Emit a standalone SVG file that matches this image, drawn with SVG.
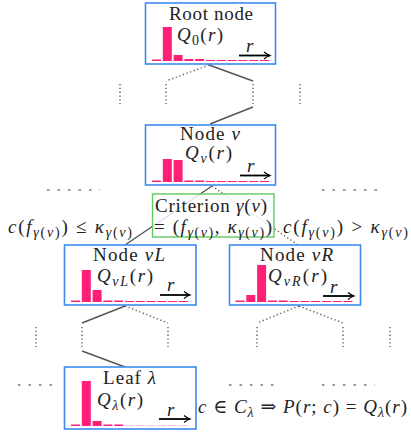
<svg xmlns="http://www.w3.org/2000/svg" width="411" height="434" viewBox="0 0 411 434">
<defs>
<style>
.box{fill:#fff;stroke:#3d8bef;stroke-width:1.6}
.crit{fill:#fff;fill-opacity:0.8;stroke:#5ec95e;stroke-width:1.4}
.t{font-size:19px;fill:#222}
.i{font-style:italic}
.s{font-size:14px}
.bar{fill:#ff1f77}
.faint{fill:#fbc3da}
.solid{stroke:#555;stroke-width:1.4;fill:none}
.dot{stroke:#666;stroke-width:1.5;stroke-dasharray:1.3 2.5;fill:none}
.hd{stroke:#777;stroke-width:1.3;stroke-dasharray:2.5 8;fill:none}
.arr{stroke:#000;stroke-width:1.8;fill:none}
</style>
<marker id="ah" markerUnits="userSpaceOnUse" markerWidth="10" markerHeight="10" refX="7" refY="5" orient="auto">
<path d="M1,1.5 Q4,4 7,5 Q4,6 1,8.5" fill="none" stroke="#000" stroke-width="1.2"/>
</marker>
</defs>

<g id="connectors">
<line class="solid" x1="209" y1="65" x2="253" y2="81"/>
<line class="dot" x1="209" y1="65" x2="166" y2="81"/>
<line class="dot" x1="120" y1="84" x2="120" y2="104"/>
<line class="dot" x1="166" y1="84" x2="166" y2="104"/>
<line class="dot" x1="253" y1="84" x2="253" y2="104"/>
<line class="dot" x1="300" y1="84" x2="300" y2="104"/>
<line class="solid" x1="253" y1="107" x2="210" y2="124"/>
<line class="solid" x1="212" y1="186" x2="125" y2="245"/>
<line class="dot" x1="212" y1="186" x2="298" y2="245"/>
<line class="hd" x1="47" y1="190" x2="100" y2="190"/>
<line class="hd" x1="322" y1="190" x2="380" y2="190"/>
<line class="solid" x1="125" y1="306" x2="82" y2="323"/>
<line class="dot" x1="125" y1="306" x2="168" y2="323"/>
<line class="dot" x1="36" y1="327" x2="36" y2="347"/>
<line class="dot" x1="82" y1="327" x2="82" y2="347"/>
<line class="dot" x1="168" y1="327" x2="168" y2="347"/>
<line class="solid" x1="82" y1="351" x2="125" y2="367"/>
<line class="dot" x1="299" y1="306" x2="257" y2="323"/>
<line class="dot" x1="299" y1="306" x2="343" y2="323"/>
<line class="dot" x1="257" y1="327" x2="257" y2="347"/>
<line class="dot" x1="343" y1="327" x2="343" y2="347"/>
<line class="dot" x1="390" y1="327" x2="390" y2="347"/>
<line class="hd" x1="18" y1="385" x2="55" y2="385"/>
<line class="hd" x1="229" y1="385" x2="275" y2="385"/>
<line class="hd" x1="322" y1="385" x2="375" y2="385"/>
</g>

<g font-family="Liberation Serif, DejaVu Serif, serif">
<g id="root">
<rect class="box" x="145.5" y="3" width="130" height="61"/>
<text class="t" x="169" y="20" textLength="84">Root node</text>
<text class="t" x="177" y="41" textLength="46"><tspan class="i">Q</tspan><tspan class="s" dy="4">0</tspan><tspan dy="-4">(</tspan><tspan class="i">r</tspan>)</text>
<rect class="bar" x="152" y="59.5" width="9" height="1.5"/>
<rect class="bar" x="162.8" y="27" width="9" height="34"/>
<rect class="bar" x="173.6" y="55" width="9" height="6"/>
<rect class="bar" x="184.4" y="59" width="9" height="2"/>
<rect class="bar" x="195.2" y="59" width="9" height="2"/>
<rect class="bar" x="206" y="60" width="9" height="1"/>
<rect class="bar" x="216.8" y="60" width="9" height="1"/>
<rect class="bar" x="227.6" y="60" width="9" height="1"/>
<rect class="bar" x="238.4" y="60" width="9" height="1"/>
<rect class="bar" x="249.2" y="60" width="9" height="1"/>
<rect class="bar" x="260" y="60" width="9" height="1"/>
<text class="t i" x="246" y="52" font-size="17">r</text>
<line class="arr" x1="239" y1="55.5" x2="270" y2="55.5" marker-end="url(#ah)"/>
</g>

<g id="node-nu">
<rect class="box" x="145.5" y="125" width="130" height="60"/>
<text class="t" x="180" y="140" textLength="60">Node <tspan class="i">ν</tspan></text>
<text class="t" x="185" y="159" textLength="47"><tspan class="i">Q</tspan><tspan class="s i" dy="4">ν</tspan><tspan dy="-4">(</tspan><tspan class="i">r</tspan>)</text>
<rect class="bar" x="152" y="180.5" width="9" height="1.5"/>
<rect class="bar" x="162.8" y="159" width="9" height="23"/>
<rect class="bar" x="173.6" y="160" width="9" height="22"/>
<rect class="bar" x="184.4" y="180.5" width="9" height="1.5"/>
<rect class="bar" x="195.2" y="180.5" width="9" height="1.5"/>
<rect class="bar" x="206" y="181" width="9" height="1"/>
<rect class="bar" x="216.8" y="181" width="9" height="1"/>
<rect class="bar" x="227.6" y="181" width="9" height="1"/>
<rect class="bar" x="238.4" y="181" width="9" height="1"/>
<rect class="bar" x="249.2" y="181" width="9" height="1"/>
<rect class="bar" x="260" y="181" width="9" height="1"/>
<text class="t i" x="247" y="172" font-size="17">r</text>
<line class="arr" x1="240" y1="175.5" x2="270" y2="175.5" marker-end="url(#ah)"/>
</g>

<g id="criterion">
<rect class="crit" x="152.5" y="194" width="121.5" height="43"/>
<text class="t" x="155" y="212" textLength="112">Criterion <tspan class="i">γ</tspan>(<tspan class="i">ν</tspan>)</text>
<text class="t" x="154" y="233" textLength="118">= (<tspan class="i">f</tspan><tspan class="s" dy="4"><tspan class="i">γ</tspan>(<tspan class="i">ν</tspan>)</tspan><tspan dy="-4">, </tspan><tspan class="i">κ</tspan><tspan class="s" dy="4"><tspan class="i">γ</tspan>(<tspan class="i">ν</tspan>)</tspan><tspan dy="-4">)</tspan></text>
</g>

<g id="cond-left">
<text class="t" x="8" y="233" textLength="124"><tspan class="i">c</tspan>(<tspan class="i">f</tspan><tspan class="s" dy="4"><tspan class="i">γ</tspan>(<tspan class="i">ν</tspan>)</tspan><tspan dy="-4">) ≤ </tspan><tspan class="i">κ</tspan><tspan class="s" dy="4"><tspan class="i">γ</tspan>(<tspan class="i">ν</tspan>)</tspan></text>
</g>

<g id="cond-right">
<text class="t" x="283" y="233" textLength="125"><tspan class="i">c</tspan>(<tspan class="i">f</tspan><tspan class="s" dy="4"><tspan class="i">γ</tspan>(<tspan class="i">ν</tspan>)</tspan><tspan dy="-4">) &gt; </tspan><tspan class="i">κ</tspan><tspan class="s" dy="4"><tspan class="i">γ</tspan>(<tspan class="i">ν</tspan>)</tspan></text>
</g>

<g id="node-nuL">
<rect class="box" x="64.5" y="245" width="131.5" height="60"/>
<text class="t" x="93" y="261" textLength="72">Node <tspan class="i">νL</tspan></text>
<text class="t" x="97" y="282" textLength="56"><tspan class="i">Q</tspan><tspan class="s i" dy="4">νL</tspan><tspan dy="-4">(</tspan><tspan class="i">r</tspan>)</text>
<rect class="bar" x="71" y="300.5" width="9" height="1.5"/>
<rect class="bar" x="81.8" y="270" width="9" height="32"/>
<rect class="bar" x="92.6" y="290" width="9" height="12"/>
<rect class="bar" x="103.4" y="300.5" width="9" height="1.5"/>
<rect class="bar" x="114.2" y="300.5" width="9" height="1.5"/>
<rect class="bar" x="125" y="301" width="9" height="1"/>
<rect class="bar" x="135.8" y="301" width="9" height="1"/>
<rect class="bar" x="146.6" y="301" width="9" height="1"/>
<rect class="bar" x="157.4" y="301" width="9" height="1"/>
<rect class="bar" x="168.2" y="301" width="9" height="1"/>
<rect class="bar" x="179" y="301" width="9" height="1"/>
<text class="t i" x="167" y="291" font-size="17">r</text>
<line class="arr" x1="160" y1="295" x2="190" y2="295" marker-end="url(#ah)"/>
</g>

<g id="node-nuR">
<rect class="box" x="229.5" y="245" width="131" height="60"/>
<text class="t" x="260" y="261" textLength="73">Node <tspan class="i">νR</tspan></text>
<text class="t" x="268" y="282" textLength="59"><tspan class="i">Q</tspan><tspan class="s i" dy="4">νR</tspan><tspan dy="-4">(</tspan><tspan class="i">r</tspan>)</text>
<rect class="bar" x="235.5" y="300.5" width="9" height="1.5"/>
<rect class="bar" x="246.3" y="295" width="9" height="7"/>
<rect class="bar" x="257.1" y="265" width="9" height="37"/>
<rect class="bar" x="267.9" y="300.5" width="9" height="1.5"/>
<rect class="bar" x="278.7" y="300.5" width="9" height="1.5"/>
<rect class="bar" x="289.5" y="301" width="9" height="1"/>
<rect class="bar" x="300.3" y="301" width="9" height="1"/>
<rect class="bar" x="311.1" y="301" width="9" height="1"/>
<rect class="bar" x="321.9" y="301" width="9" height="1"/>
<rect class="bar" x="332.7" y="301" width="9" height="1"/>
<rect class="bar" x="343.5" y="301" width="9" height="1"/>
<text class="t i" x="330" y="293" font-size="17">r</text>
<line class="arr" x1="323" y1="296" x2="354" y2="296" marker-end="url(#ah)"/>
</g>

<g id="leaf">
<rect class="box" x="64.5" y="367" width="131.5" height="62"/>
<text class="t" x="103" y="384" textLength="53">Leaf <tspan class="i">λ</tspan></text>
<text class="t" x="97" y="406" textLength="46"><tspan class="i">Q</tspan><tspan class="s i" dy="4">λ</tspan><tspan dy="-4">(</tspan><tspan class="i">r</tspan>)</text>
<rect class="bar" x="71" y="424.5" width="9" height="1.5"/>
<rect class="bar" x="81.8" y="381" width="9" height="45"/>
<rect class="bar" x="92.6" y="421" width="9" height="5"/>
<rect class="bar" x="103.4" y="424.5" width="9" height="1.5"/>
<rect class="bar" x="114.2" y="424.5" width="9" height="1.5"/>
<rect class="faint" x="125" y="425" width="9" height="1"/>
<rect class="faint" x="135.8" y="425" width="9" height="1"/>
<rect class="faint" x="146.6" y="425" width="9" height="1"/>
<rect class="faint" x="157.4" y="425" width="9" height="1"/>
<rect class="faint" x="168.2" y="425" width="9" height="1"/>
<rect class="faint" x="179" y="425" width="9" height="1"/>
<text class="t i" x="167" y="416" font-size="17">r</text>
<line class="arr" x1="159" y1="419" x2="190" y2="419" marker-end="url(#ah)"/>
</g>

<g id="leaf-rule">
<text class="t" x="198" y="413" textLength="209"><tspan class="i">c</tspan> ∈ <tspan class="i">C</tspan><tspan class="s i" dy="4">λ</tspan><tspan dy="-4"> ⇒ </tspan><tspan class="i">P</tspan>(<tspan class="i">r</tspan>; <tspan class="i">c</tspan>) = <tspan class="i">Q</tspan><tspan class="s i" dy="4">λ</tspan><tspan dy="-4">(</tspan><tspan class="i">r</tspan>)</text>
</g>
</g>
</svg>
